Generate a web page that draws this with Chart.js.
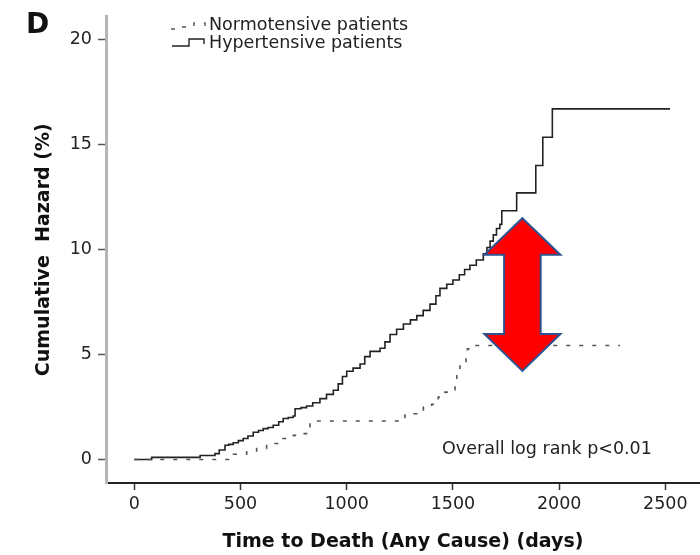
<!DOCTYPE html>
<html>
<head>
<meta charset="utf-8">
<script src="https://cdn.jsdelivr.net/npm/chart.js@4"></script>
<style>
  html, body { margin: 0; padding: 0; background: #fff; }
  #wrap { width: 700px; height: 555px; position: relative; }
</style>
</head>
<body>
<div id="wrap"><canvas id="chart"></canvas></div>
<script>
const FONT = '"DejaVu Sans", "Liberation Sans", Arial, sans-serif';

// axis ticks
const xTicks = [0, 500, 1000, 1500, 2000, 2500];
const yTicks = [0, 5, 10, 15, 20];

// Hypertensive patients: step times (days) and cumulative hazard (%)
const hyperDays = [0, 82, 310, 380, 400, 427, 445, 466, 490, 513, 535, 560, 585, 607, 630, 654,
  680, 701, 725, 748, 757, 785, 811, 840, 874, 905, 937, 960, 980, 1000, 1030, 1063, 1085,
  1110, 1157, 1180, 1204, 1235, 1267, 1300, 1330, 1360, 1392, 1420, 1439, 1471, 1500, 1530,
  1555, 1580, 1610, 1643, 1660, 1675, 1690, 1705, 1721, 1730, 1800, 1890, 1923, 1968, 2522];
const hyperHazard = [0, 0.1, 0.19, 0.28, 0.45, 0.68, 0.72, 0.8, 0.9, 1.0, 1.12, 1.3, 1.38, 1.47, 1.52, 1.63,
  1.8, 1.95, 2.0, 2.07, 2.42, 2.47, 2.55, 2.7, 2.9, 3.1, 3.3, 3.6, 3.95, 4.2, 4.35, 4.55, 4.9,
  5.15, 5.3, 5.6, 5.95, 6.2, 6.45, 6.65, 6.85, 7.1, 7.4, 7.8, 8.15, 8.35, 8.55, 8.8,
  9.05, 9.25, 9.5, 9.8, 10.1, 10.4, 10.7, 11.0, 11.2, 11.85, 12.7, 14.0, 15.35, 16.7, 16.7];

// Normotensive patients
const normoDays = [0, 466, 529, 576, 623, 686, 749, 796, 811, 827, 1274, 1337, 1361, 1400, 1431,
  1463, 1494, 1510, 1518, 1533, 1562, 1568, 1596, 2287];
const normoHazard = [0, 0.25, 0.36, 0.52, 0.76, 1.0, 1.15, 1.23, 1.55, 1.83, 2.18, 2.21, 2.5, 2.63, 2.97,
  3.21, 3.32, 3.77, 4.16, 4.56, 4.8, 5.27, 5.43, 5.43];

const toPoints = (xs, ys) => xs.map((x, i) => ({ x: x, y: ys[i] }));

// red double arrow, in data units
const arrow = { day: 1827, tipTop: 11.49, headTop: 9.75, headBottom: 5.98, tipBottom: 4.22, headHalf: 179, shaftHalf: 86 };

const overlay = {
  id: 'overlay',
  afterDatasetsDraw(chart) {
    const ctx = chart.ctx;
    const xs = chart.scales.x, ys = chart.scales.y;
    const px = d => xs.getPixelForValue(d);
    const py = v => ys.getPixelForValue(v);

    // double arrow
    const a = arrow;
    ctx.save();
    ctx.beginPath();
    ctx.moveTo(px(a.day), py(a.tipTop));
    ctx.lineTo(px(a.day + a.headHalf), py(a.headTop));
    ctx.lineTo(px(a.day + a.shaftHalf), py(a.headTop));
    ctx.lineTo(px(a.day + a.shaftHalf), py(a.headBottom));
    ctx.lineTo(px(a.day + a.headHalf), py(a.headBottom));
    ctx.lineTo(px(a.day), py(a.tipBottom));
    ctx.lineTo(px(a.day - a.headHalf), py(a.headBottom));
    ctx.lineTo(px(a.day - a.shaftHalf), py(a.headBottom));
    ctx.lineTo(px(a.day - a.shaftHalf), py(a.headTop));
    ctx.lineTo(px(a.day - a.headHalf), py(a.headTop));
    ctx.closePath();
    ctx.fillStyle = '#ff0000';
    ctx.fill();
    ctx.lineWidth = 2;
    ctx.strokeStyle = '#2f528f';
    ctx.lineJoin = 'miter';
    ctx.stroke();
    ctx.restore();

    // p-value note
    ctx.save();
    ctx.fillStyle = '#222';
    ctx.font = '17.5px ' + FONT;
    ctx.textBaseline = 'middle';
    ctx.fillText('Overall log rank p<0.01', px(1449), py(0.5));

    // panel letter
    ctx.font = 'bold 28px ' + FONT;
    ctx.fillStyle = '#111';
    ctx.textBaseline = 'alphabetic';
    ctx.fillText('D', 26, 33);

    // legend
    ctx.font = '17.5px ' + FONT;
    ctx.textBaseline = 'middle';
    const ds = chart.data.datasets;
    const rows = [25, 43];
    ds.forEach((d, i) => {
      const y = rows[i];
      ctx.save();
      ctx.strokeStyle = d.borderColor;
      ctx.lineWidth = 1.4;
      ctx.setLineDash(d.borderDash || []);
      ctx.beginPath();
      if (i === 0) {
        ctx.moveTo(171, y + 4); ctx.lineTo(182, y + 4); ctx.lineTo(182, y + 2);
        ctx.lineTo(194, y + 2); ctx.lineTo(194, y - 2); ctx.lineTo(205, y - 2); ctx.lineTo(205, y + 2);
      } else {
        ctx.moveTo(172, y + 3); ctx.lineTo(189, y + 3); ctx.lineTo(189, y - 4);
        ctx.lineTo(204, y - 4); ctx.lineTo(204, y + 1);
      }
      ctx.stroke();
      ctx.restore();
      ctx.fillStyle = '#222';
      ctx.fillText(d.label, 209, y);
    });
    ctx.restore();
  }
};

new Chart(document.getElementById('chart'), {
  type: 'line',
  data: {
    datasets: [
      {
        label: 'Normotensive patients',
        data: toPoints(normoDays, normoHazard),
        borderColor: '#555',
        borderWidth: 1.6,
        borderDash: [4, 9],
        stepped: 'before',
        pointRadius: 0,
        fill: false
      },
      {
        label: 'Hypertensive patients',
        data: toPoints(hyperDays, hyperHazard),
        borderColor: '#222',
        borderWidth: 1.6,
        stepped: 'before',
        pointRadius: 0,
        fill: false
      }
    ]
  },
  options: {
    responsive: true,
    maintainAspectRatio: false,
    animation: false,
    layout: { padding: { top: 15, right: 0, bottom: 0, left: 0 } },
    plugins: {
      legend: { display: false },
      tooltip: { enabled: false }
    },
    scales: {
      x: {
        type: 'linear',
        min: -133,
        max: 2663,
        afterBuildTicks: s => { s.ticks = xTicks.map(v => ({ value: v })); },
        afterFit: s => { s.height = 72; },
        border: { display: true, color: '#222', width: 2 },
        grid: { drawOnChartArea: false, drawTicks: true, tickLength: 7, tickColor: '#333', tickWidth: 1.5 },
        ticks: {
          color: '#222',
          font: { family: FONT, size: 17.5 },
          padding: 4,
          maxRotation: 0,
          autoSkip: false,
          callback: v => String(v)
        },
        title: {
          display: true,
          text: 'Time to Death (Any Cause) (days)',
          color: '#111',
          font: { family: FONT, size: 19, weight: 'bold' },
          padding: { top: 0, bottom: 2 }
        }
      },
      y: {
        type: 'linear',
        min: -1.12,
        max: 21.1,
        afterBuildTicks: s => { s.ticks = yTicks.map(v => ({ value: v })); },
        afterFit: s => { s.width = 106; },
        border: { display: true, color: '#b5b5b5', width: 3 },
        grid: { drawOnChartArea: false, drawTicks: true, tickLength: 8, tickColor: '#555', tickWidth: 1.5 },
        ticks: { color: '#222', font: { family: FONT, size: 17.5 }, padding: 6, callback: v => String(v) },
        title: {
          display: true,
          text: 'Cumulative  Hazard (%)',
          color: '#111',
          font: { family: FONT, size: 19, weight: 'bold' },
          padding: { top: 33, bottom: 0 }
        }
      }
    }
  },
  plugins: [overlay]
});
</script>
</body>
</html>
